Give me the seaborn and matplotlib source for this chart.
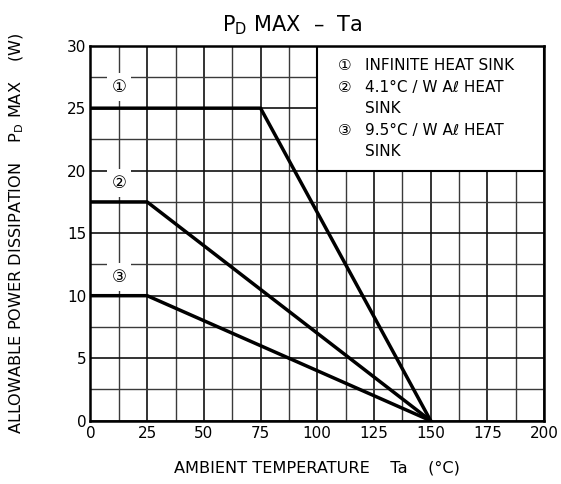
import matplotlib
matplotlib.use("Agg")
import matplotlib.pyplot as plt
import seaborn as sns
import pandas as pd
from matplotlib.patches import Rectangle

# derating curves: PD MAX (W) vs ambient temperature Ta (degC)
ta_infinite = [0, 75, 150]
pd_infinite = [25, 25, 0]
ta_41 = [0, 25, 150]
pd_41 = [17.5, 17.5, 0]
ta_95 = [0, 25, 150]
pd_95 = [10, 10, 0]

curve_marks = ["①", "②", "③"]
mark_y = [26.7, 19.0, 11.5]
key_marks = ["①", "②", "", "③", ""]
key_lines = ["INFINITE HEAT SINK", "4.1°C / W Aℓ HEAT", "SINK",
             "9.5°C / W Aℓ HEAT", "SINK"]

x_ticks = [0, 25, 50, 75, 100, 125, 150, 175, 200]
y_ticks = [0, 5, 10, 15, 20, 25, 30]

df = pd.concat([
    pd.DataFrame({"ta": ta_infinite, "pd": pd_infinite, "sink": "inf"}),
    pd.DataFrame({"ta": ta_41, "pd": pd_41, "sink": "4.1"}),
    pd.DataFrame({"ta": ta_95, "pd": pd_95, "sink": "9.5"}),
])

sns.set_style("white")
plt.rcParams["font.family"] = ["DejaVu Sans"]
plt.rcParams["mathtext.fontset"] = "dejavusans"
plt.rcParams["text.color"] = "black"

fig = plt.figure(figsize=(5.61, 4.84), dpi=100)
ax = fig.add_axes([0.1613, 0.1308, 0.8084, 0.7748])

sns.lineplot(data=df, x="ta", y="pd", hue="sink", palette=["black"] * 3,
             sort=False, estimator=None, legend=False, linewidth=2.5,
             ax=ax, zorder=4)

ax.set_xlim(0, 200)
ax.set_ylim(0, 30)
ax.set_xticks(x_ticks)
ax.set_yticks(y_ticks)
ax.set_xticks([t + 12.5 for t in x_ticks[:-1]], minor=True)
ax.set_yticks([t + 2.5 for t in y_ticks[:-1]], minor=True)
ax.set_axisbelow(True)
ax.grid(which="major", color="#111111", linewidth=1.2)
ax.grid(which="minor", color="#3a3a3a", linewidth=1.0)
ax.tick_params(which="both", length=0, labelsize=11, colors="black")
ax.tick_params(axis="x", pad=4)
ax.tick_params(axis="y", pad=3)
for s in ax.spines.values():
    s.set_color("black")
    s.set_linewidth(1.8)

ax.set_xlabel("")
ax.set_ylabel("")

# key box in upper right
ax.add_patch(Rectangle((100, 20), 100, 10, facecolor="white",
                       edgecolor="black", linewidth=1.5, zorder=2))
for i, (m, line) in enumerate(zip(key_marks, key_lines)):
    y = 28.4 - i * 1.72
    if m:
        ax.text(109.2, y, m, fontsize=11, va="center", ha="left", zorder=5)
    ax.text(121.0, y, line, fontsize=11, va="center", ha="left", zorder=5)

for m, y in zip(curve_marks, mark_y):
    ax.text(12.5, y, m, fontsize=12, ha="center", va="center",
            zorder=3, bbox=dict(facecolor="white", edgecolor="none", pad=3.5))

fig.text(292 / 561, 1 - 25 / 484, r"P$_\mathrm{D}$ MAX  –  Ta", fontsize=15,
         ha="center", va="center")
fig.text(316.5 / 561, 1 - 468 / 484, "AMBIENT TEMPERATURE    Ta    (°C)",
         fontsize=11.6, ha="center", va="center")
fig.text(17 / 561, 1 - 233 / 484,
         r"ALLOWABLE POWER DISSIPATION    P$_\mathrm{D}$ MAX    (W)",
         fontsize=11.6, ha="center", va="center", rotation=90)

fig.savefig("out.png", dpi=100)
